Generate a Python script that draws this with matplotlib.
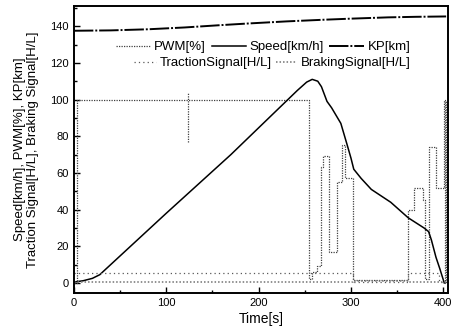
import numpy as np
import matplotlib
matplotlib.use("Agg")
import matplotlib.pyplot as plt
from matplotlib.ticker import MultipleLocator

plt.rcParams['font.family'] = ['Liberation Sans', 'DejaVu Sans']

# speed [km/h]
speed_t = [0, 10, 20, 28, 100, 170, 242, 252, 258, 264, 268, 274, 279, 289, 296, 300,
           303, 311, 322, 343, 362, 379, 384, 387, 392, 396, 401]
speed_v = [0.5, 1.2, 2.5, 4.5, 38, 70, 105, 109.5, 111, 110, 107, 99, 95.5, 87, 75, 68,
           62, 57, 51, 44, 35.5, 30, 28, 23.5, 14, 8, 0]

# KP [km]
kp_t = [0, 40, 80, 120, 160, 190, 230, 270, 300, 340, 370, 403]
kp_v = [137.5, 137.7, 138.3, 139.3, 140.6, 141.5, 142.6, 143.5, 144.1, 144.8, 145.1, 145.3]

# PWM [%]
pwm_t = [0, 3, 3, 255, 255, 258, 258, 263, 263, 267, 267, 270, 270, 276, 276, 285, 285,
         290, 290, 293, 293, 302, 302, 362, 362, 368, 368, 378, 378, 380, 380, 384, 384,
         392, 392, 401, 401, 402, 402, 403, 403]
pwm_v = [0, 0, 100, 100, 2, 2, 6, 6, 9, 9, 63, 63, 69, 69, 17, 17, 55,
         55, 75, 75, 57, 57, 1.5, 1.5, 40, 40, 52, 52, 45, 45, 2, 2, 74,
         74, 52, 52, 100, 100, 0, 0, 100]

# short marker segment near t=124
mark_t = [124, 124]
mark_v = [77, 104]

# traction / braking signals [H/L]
trac_t = [0, 302, 302, 362, 362, 395, 395, 403]
trac_v = [5.5, 5.5, 0.5, 0.5, 5.5, 5.5, 0.5, 0.5]
brak_t = [0, 302, 302, 362, 362, 403]
brak_v = [0.3, 0.3, 1.2, 1.2, 0.3, 0.3]

fig = plt.figure(figsize=(4.59, 3.33), dpi=100)
ax = fig.add_axes([0.161, 0.12, 0.815, 0.862])

l_pwm, = ax.plot(pwm_t, pwm_v, color='0.25', lw=0.9, ls=(0, (1, 1)))
ax.plot(mark_t, mark_v, color='0.25', lw=0.9, ls=(0, (1, 1)))
l_spd, = ax.plot(speed_t, speed_v, color='black', lw=1.1)
l_kp, = ax.plot(kp_t, kp_v, color='black', lw=1.4, ls=(0, (10, 1, 1, 1)))
l_tr, = ax.plot(trac_t, trac_v, color='0.35', lw=0.9, ls=(0, (1, 2.5)))
l_br, = ax.plot(brak_t, brak_v, color='0.45', lw=1.1, ls=(0, (1, 1.3)))

ax.set_xlim(0, 405)
ax.set_ylim(-5.5, 151)
ax.xaxis.set_major_locator(MultipleLocator(100))
ax.xaxis.set_minor_locator(MultipleLocator(50))
ax.yaxis.set_major_locator(MultipleLocator(20))
ax.yaxis.set_minor_locator(MultipleLocator(10))
ax.tick_params(which='both', direction='in', labelsize=8, width=1)
ax.tick_params(which='major', length=4)
ax.tick_params(which='minor', length=2)
for s in ax.spines.values():
    s.set_linewidth(1.4)

ax.set_xlabel('Time[s]', fontsize=10, labelpad=3)
ax.set_ylabel('Speed[km/h], PWM[%], KP[km]\nTraction Signal[H/L], Braking Signal[H/L]',
              fontsize=9.5, labelpad=8)

leg1 = ax.legend([l_pwm, l_spd, l_kp], ['PWM[%]', 'Speed[km/h]', 'KP[km]'],
                 ncol=3, loc='center right', bbox_to_anchor=(0.9, 0.857),
                 frameon=False, fontsize=9.5, borderpad=0, borderaxespad=0,
                 handlelength=2.6, handletextpad=0.3, columnspacing=0.4)
ax.add_artist(leg1)
ax.legend([l_tr, l_br], ['TractionSignal[H/L]', 'BrakingSignal[H/L]'],
          ncol=2, loc='center right', bbox_to_anchor=(0.9, 0.801),
          frameon=False, fontsize=9.5, borderpad=0, borderaxespad=0,
          handlelength=1.6, handletextpad=0.3, columnspacing=0.3)

fig.savefig('out.png', dpi=100)
